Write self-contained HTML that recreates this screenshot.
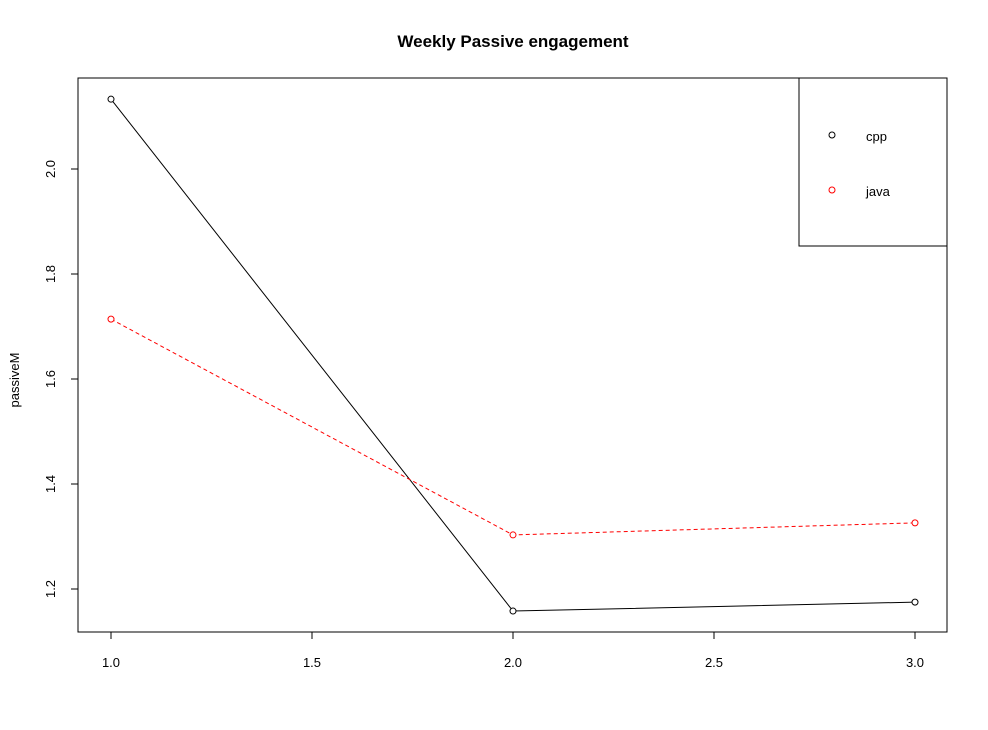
<!DOCTYPE html>
<html><head><meta charset="utf-8"><style>
body{margin:0;background:#fff}
svg{display:block;font-family:"Liberation Sans",Arial,sans-serif}
</style></head><body>
<svg id="chart" width="988" height="730">
<rect width="988" height="730" fill="#fff"/>
<text x="513" y="47" text-anchor="middle" font-size="17" font-weight="bold">Weekly Passive engagement</text>
<rect x="78" y="78" width="869" height="554" fill="none" stroke="#000"/>
<text transform="translate(19,380) rotate(-90)" text-anchor="middle" font-size="13">passiveM</text>
<g id="axes"></g>
<g id="series"></g>
<g>
<rect x="799" y="78" width="148" height="168" fill="#fff" stroke="#000"/>
<circle cx="832" cy="135" r="3" fill="none" stroke="#000"/>
<text x="866" y="141" font-size="13">cpp</text>
<circle cx="832" cy="190" r="3" fill="none" stroke="#f00"/>
<text x="866" y="196" font-size="13">java</text>
</g>
</svg>
<script>
const xValues=[1,2,3];
const cppValues=[2.133,1.158,1.175];
const javaValues=[1.714,1.303,1.326];
const xTicks=["1.0","1.5","2.0","2.5","3.0"];
const yTicks=["1.2","1.4","1.6","1.8","2.0"];
const NS="http://www.w3.org/2000/svg";
function sx(v){return 111+(v-1)*402;}
function sy(v){return 169+(2.0-v)*525;}
function mk(tag,attrs,parent){const e=document.createElementNS(NS,tag);for(const k in attrs)e.setAttribute(k,attrs[k]);parent.appendChild(e);return e;}
const axes=document.getElementById('axes');
const xa=mk('line',{x1:sx(1),x2:sx(3),y1:632,y2:632,stroke:'#000'},axes);


xTicks.forEach(t=>{const v=parseFloat(t);
const l=mk('line',{x1:sx(v),x2:sx(v),y1:632,y2:639,stroke:'#000'},axes);


const tx=mk('text',{x:sx(v),y:667,'text-anchor':'middle','font-size':13},axes);tx.textContent=t;


});
const ya=mk('line',{x1:78,x2:78,y1:sy(2.0),y2:sy(1.2),stroke:'#000'},axes);


yTicks.forEach(t=>{const v=parseFloat(t);
const l=mk('line',{x1:71,x2:78,y1:sy(v),y2:sy(v),stroke:'#000'},axes);


const tx=mk('text',{transform:`translate(55,${sy(v)}) rotate(-90)`,'text-anchor':'middle','font-size':13},axes);tx.textContent=t;


});
const series=document.getElementById('series');
function draw(vals,color,dash,name){
const pts=xValues.map((x,i)=>sx(x)+','+sy(vals[i])).join(' ');
const pl=mk('polyline',{points:pts,fill:'none',stroke:color,'stroke-width':1,'stroke-dasharray':dash},series);


xValues.forEach((x,i)=>{const c=mk('circle',{cx:sx(x),cy:sy(vals[i]),r:3,fill:'#fff',stroke:color},series);

});
}
draw(cppValues,'#000','none','cpp');
draw(javaValues,'#f00','4,3','java');
</script>
</body></html>
